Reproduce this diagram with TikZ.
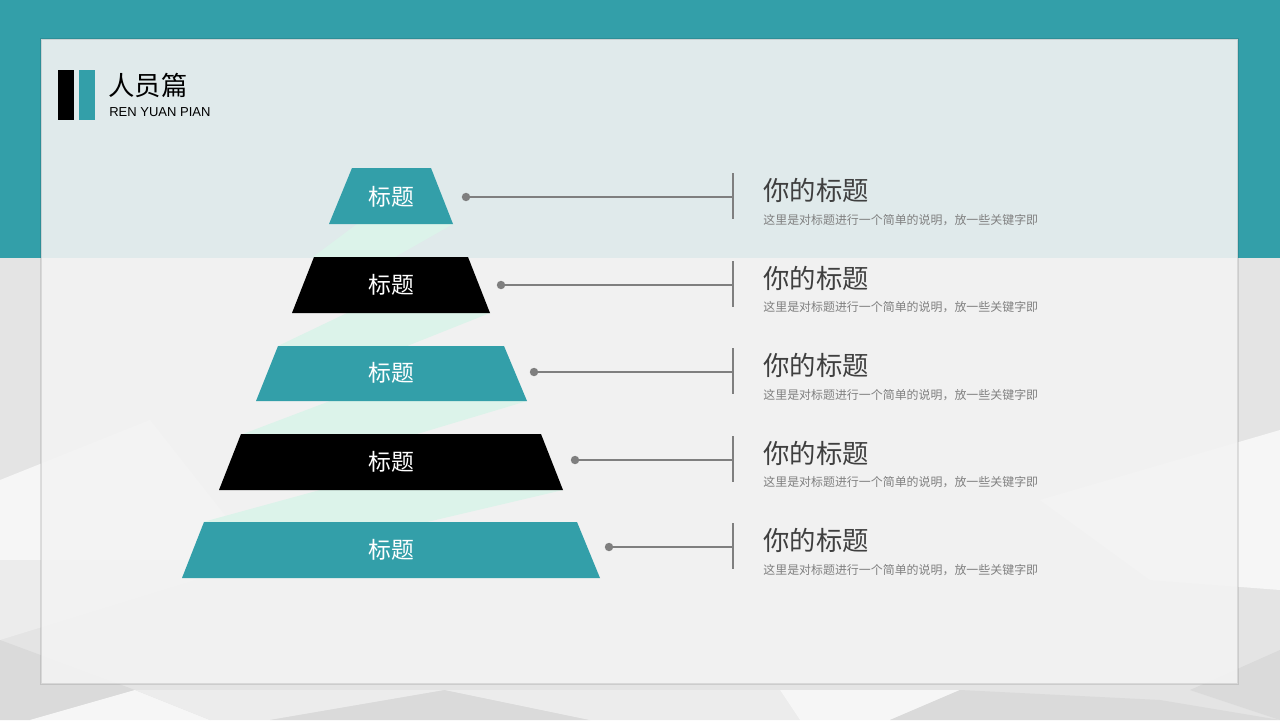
\documentclass[tikz,border=0pt]{standalone}
\usepackage{fontspec}
\setmainfont{Liberation Sans}
\newfontfamily\cjk{Noto Sans CJK SC}
\usepackage{tikz}

\definecolor{tealc}{HTML}{339FA9}
\definecolor{bandc}{HTML}{DCF3EA}
\definecolor{cardc}{HTML}{F3F3F3}
\definecolor{linec}{HTML}{7F7F7F}
\definecolor{headc}{HTML}{3F3F3F}
\definecolor{notec}{HTML}{808080}
\definecolor{bgA}{HTML}{DADADA}
\definecolor{bgB}{HTML}{E4E4E4}
\definecolor{bgC}{HTML}{ECECEC}
\definecolor{bgD}{HTML}{F6F6F6}

\tikzset{
  tier/.style={inner sep=0pt,text=white,font=\cjk\fontsize{13}{15}\selectfont},
  conn/.style={draw=linec,line width=1.1pt},
  head/.style={anchor=west,inner sep=0pt,text=headc,font=\cjk\fontsize{15}{18}\selectfont},
  note/.style={anchor=west,inner sep=0pt,text=notec,font=\cjk\fontsize{6.8}{8}\selectfont},
}

\begin{document}
\begin{tikzpicture}[x=0.02cm,y=-0.02cm]
\useasboundingbox (0,0) rectangle (1280,720);
% background
\fill[bgB] (0,0) rectangle (1280,720);
\fill[bgD] (0,480) -- (150,420) -- (260,560) -- (0,560) -- cycle;
\fill[bgC] (0,560) -- (260,560) -- (0,640) -- cycle;
\fill[bgA] (0,640) -- (135,690) -- (30,720) -- (0,720) -- cycle;
\fill[bgD] (135,690) -- (210,720) -- (30,720) -- cycle;
\fill[bgC] (135,690) -- (445,690) -- (270,720) -- (210,720) -- cycle;
\fill[bgA] (445,690) -- (590,720) -- (270,720) -- cycle;
\fill[bgC] (445,690) -- (780,690) -- (800,720) -- (590,720) -- cycle;
\fill[bgD] (780,690) -- (960,690) -- (890,720) -- (800,720) -- cycle;
\fill[bgA] (960,690) -- (1160,700) -- (1280,720) -- (890,720) -- cycle;
\fill[bgA] (1190,690) -- (1280,650) -- (1280,720) -- cycle;
\fill[bgD] (1040,500) -- (1280,430) -- (1280,590) -- (1150,580) -- cycle;
\fill[tealc] (0,0) rectangle (1280,258);
% card
\fill[cardc,fill opacity=0.9] (41,39) rectangle (1238,684);
\draw[black,opacity=0.1,line width=0.8pt] (41,39) rectangle (1238,684);

% header
\fill[black] (58,70) rectangle (74,120);
\fill[tealc] (79,70) rectangle (95,120);
\node[anchor=west,inner sep=0pt,font=\cjk\fontsize{15}{18}\selectfont] (title) at (108,85) {人员篇};
\node[anchor=west,inner sep=0pt,font=\fontsize{7.4}{9}\selectfont] (subtitle) at (109,112) {REN YUAN PIAN};

% light bands
\fill[bandc] (357,224) -- (453,224) -- (395,257) -- (313,257) -- cycle;
\fill[bandc] (347,313) -- (490,313) -- (407,346) -- (278,346) -- cycle;
\fill[bandc] (330,401) -- (527,401) -- (417,434) -- (243,434) -- cycle;
\fill[bandc] (320,490) -- (563,490) -- (427,522) -- (203,522) -- cycle;

% pyramid
\fill[tealc] (329,224) -- (352,168) -- (431,168) -- (453,224) -- cycle;
\fill[black] (292,313) -- (314,257) -- (468,257) -- (490,313) -- cycle;
\fill[tealc] (256,401) -- (278,346) -- (504,346) -- (527,401) -- cycle;
\fill[black] (219,490) -- (241,434) -- (541,434) -- (563,490) -- cycle;
\fill[tealc] (182,578) -- (204,522) -- (577,522) -- (600,578) -- cycle;
\node[tier] (t1) at (391,197) {标题};
\node[tier] (t2) at (391,285) {标题};
\node[tier] (t3) at (391,373) {标题};
\node[tier] (t4) at (391,462) {标题};
\node[tier] (t5) at (391,550) {标题};

% connectors
\coordinate (d1) at (466,197); \coordinate (b1) at (733,197);
\coordinate (d2) at (501,285); \coordinate (b2) at (733,285);
\coordinate (d3) at (534,372); \coordinate (b3) at (733,372);
\coordinate (d4) at (575,460); \coordinate (b4) at (733,460);
\coordinate (d5) at (609,547); \coordinate (b5) at (733,547);
\draw[conn] (d1) -- (b1);
\draw[conn] (d2) -- (b2);
\draw[conn] (d3) -- (b3);
\draw[conn] (d4) -- (b4);
\draw[conn] (d5) -- (b5);
\draw[conn] (b1) ++(0,-24) -- ++(0,46);
\draw[conn] (b2) ++(0,-24) -- ++(0,46);
\draw[conn] (b3) ++(0,-24) -- ++(0,46);
\draw[conn] (b4) ++(0,-24) -- ++(0,46);
\draw[conn] (b5) ++(0,-24) -- ++(0,46);
\fill[linec] (d1) circle (2.4pt);
\fill[linec] (d2) circle (2.4pt);
\fill[linec] (d3) circle (2.4pt);
\fill[linec] (d4) circle (2.4pt);
\fill[linec] (d5) circle (2.4pt);

% texts
\node[head] (h1) at (763,190) {你的标题};
\node[note] (n1) at (763,220) {这里是对标题进行一个简单的说明，放一些关键字即};
\node[head] (h2) at (763,278) {你的标题};
\node[note] (n2) at (763,307) {这里是对标题进行一个简单的说明，放一些关键字即};
\node[head] (h3) at (763,365) {你的标题};
\node[note] (n3) at (763,395) {这里是对标题进行一个简单的说明，放一些关键字即};
\node[head] (h4) at (763,453) {你的标题};
\node[note] (n4) at (763,482) {这里是对标题进行一个简单的说明，放一些关键字即};
\node[head] (h5) at (763,540) {你的标题};
\node[note] (n5) at (763,570) {这里是对标题进行一个简单的说明，放一些关键字即};
\end{tikzpicture}
\end{document}
